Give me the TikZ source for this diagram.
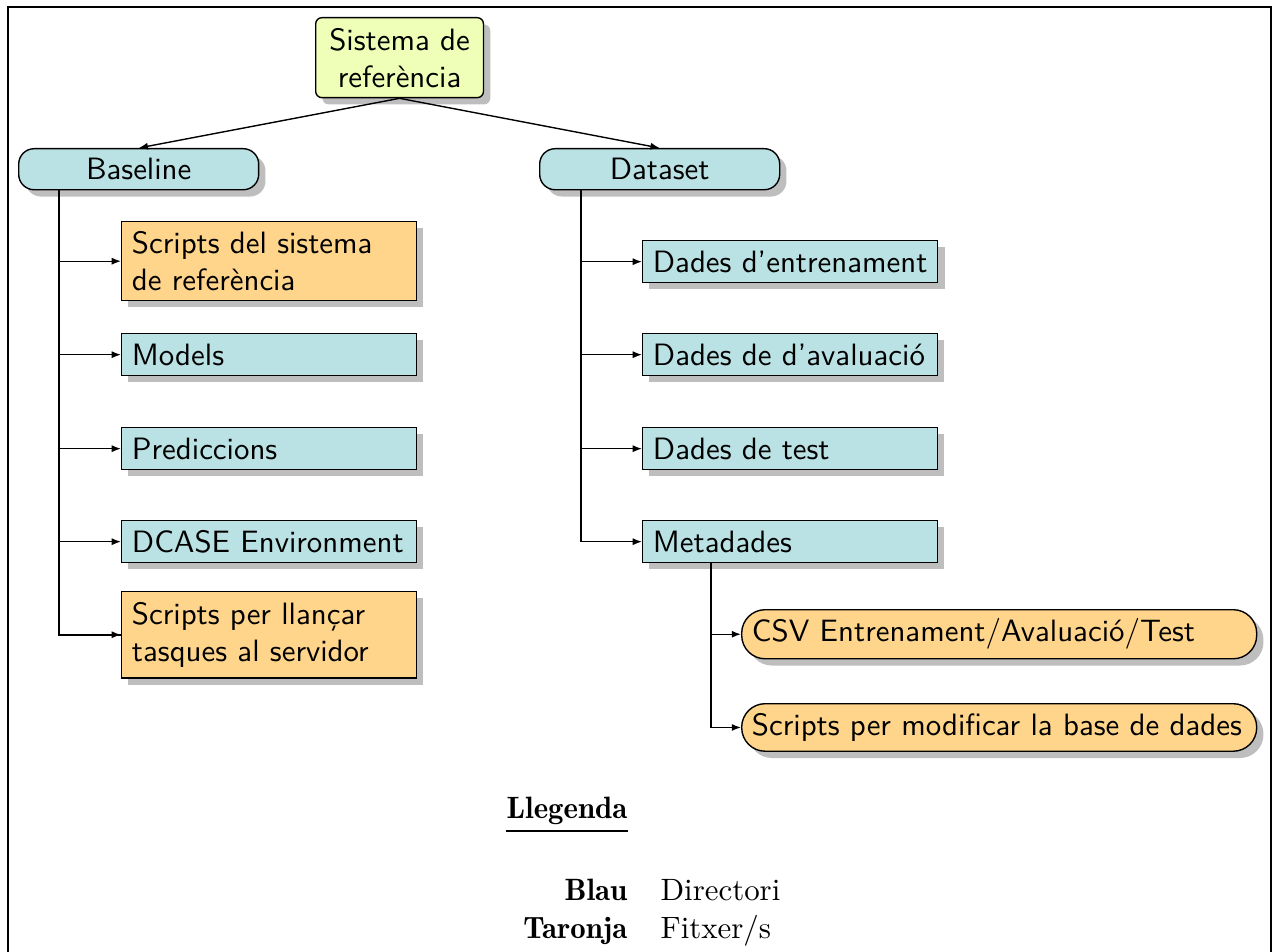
\documentclass[tikz,border=0pt]{standalone}
\usetikzlibrary{shadows,arrows.meta}
\definecolor{tealfill}{HTML}{BAE1E3}
\definecolor{orangefill}{HTML}{FFD58C}
\definecolor{rootfill}{HTML}{F0FFB8}
\definecolor{shadowgrey}{HTML}{BEBEBE}
\tikzset{
  shad/.style={drop shadow={shadow xshift=2.2pt, shadow yshift=-2.2pt, fill=shadowgrey, opacity=1}},
  basebox/.style={draw=black, line width=0.45pt, shad, font=\sffamily, inner xsep=3.33pt, inner ysep=1.2pt, anchor=north west},
  dirbox/.style={basebox, rectangle, fill=tealfill, text width=88.9pt, align=left, minimum height=13.6pt},
  filebox/.style={basebox, rectangle, fill=orangefill, text width=88.9pt, align=left},
  topbox/.style={basebox, rectangle, rounded corners=5pt, fill=tealfill, text width=71.1pt, align=center, minimum height=13.3pt},
  pillbox/.style={basebox, rectangle, rounded corners=7.6pt, fill=orangefill, text width=160.2pt, align=left},
  rootbox/.style={basebox, rectangle, rounded corners=2pt, fill=rootfill, text width=47.7pt, align=center, minimum height=25.9pt},
  conn/.style={draw=black, line width=0.45pt, -{Latex[length=3pt,width=2.3pt]}},
  trunk/.style={draw=black, line width=0.5pt},
  legtext/.style={inner sep=0pt, font=\rmfamily},
  legbold/.style={inner sep=0pt, font=\rmfamily\fontseries{b}\selectfont}
}
\begin{document}
\begin{tikzpicture}[x=0.324pt, y=-0.324pt]
\useasboundingbox (0,0) rectangle (1274,952);
% frame
\draw[line width=0.6pt] (8,980) -- (8,7) -- (1271,7) -- (1271,980);

% root
\node[rootbox] (root) at (315,17) {Sistema de referència};

% top level
\node[topbox] (bl) at (18,148) {Baseline};
\node[topbox] (ds) at (539,148) {Dataset};
\draw[conn] (root.south) -- (bl.north);
\draw[conn] (root.south) -- (ds.north);

% Baseline children
\node[filebox, minimum height=25.6pt] (b1) at (121,221) {Scripts del sistema\\de referència};
\node[dirbox] (b2) at (121,333) {Models};
\node[dirbox] (b3) at (121,427) {Prediccions};
\node[dirbox] (b4) at (121,520) {DCASE Environment};
\node[filebox, minimum height=27.9pt] (b5) at (121,591) {Scripts per llançar\\tasques al servidor};

\draw[trunk] ([xshift=13.3pt]bl.south west) |- (b5.west);
\foreach \c in {b1,b2,b3,b4,b5}
  \draw[conn] ([xshift=13.3pt]bl.south west) |- (\c.west);

% Dataset children
\node[dirbox, text width=93pt, inner xsep=1.3pt] (d1) at (642,240) {\hspace{2pt}Dades d’entrenament};
\node[dirbox] (d2) at (642,333) {Dades de d’avaluació};
\node[dirbox] (d3) at (642,427) {Dades de test};
\node[dirbox] (d4) at (642,520) {Metadades};

\foreach \c in {d1,d2,d3,d4}
  \draw[conn] ([xshift=13.6pt]ds.south west) |- (\c.west);

% Metadades children
\node[pillbox, minimum height=15.9pt] (m1) at (741,609) {CSV Entrenament/Avaluació/Test};
\node[pillbox, minimum height=15.4pt] (m2) at (741,703) {Scripts per modificar la base de dades};

\foreach \c in {m1,m2}
  \draw[conn] ([xshift=22.4pt]d4.south west) |- (\c.west);

% legend
\node[legbold, anchor=base east] (leg) at (628,818) {Llegenda};
\draw[line width=0.5pt] ([yshift=-4.2pt]leg.base west) -- ([yshift=-4.2pt]leg.base east);
\node[legbold, anchor=base east] (blau) at (628,900) {Blau};
\node[legtext, anchor=base west] (dir) at (660,900) {Directori};
\node[legbold, anchor=base east] (tar) at (628,938) {Taronja};
\node[legtext, anchor=base west] (fit) at (660,938) {Fitxer/s};
\end{tikzpicture}
\end{document}
